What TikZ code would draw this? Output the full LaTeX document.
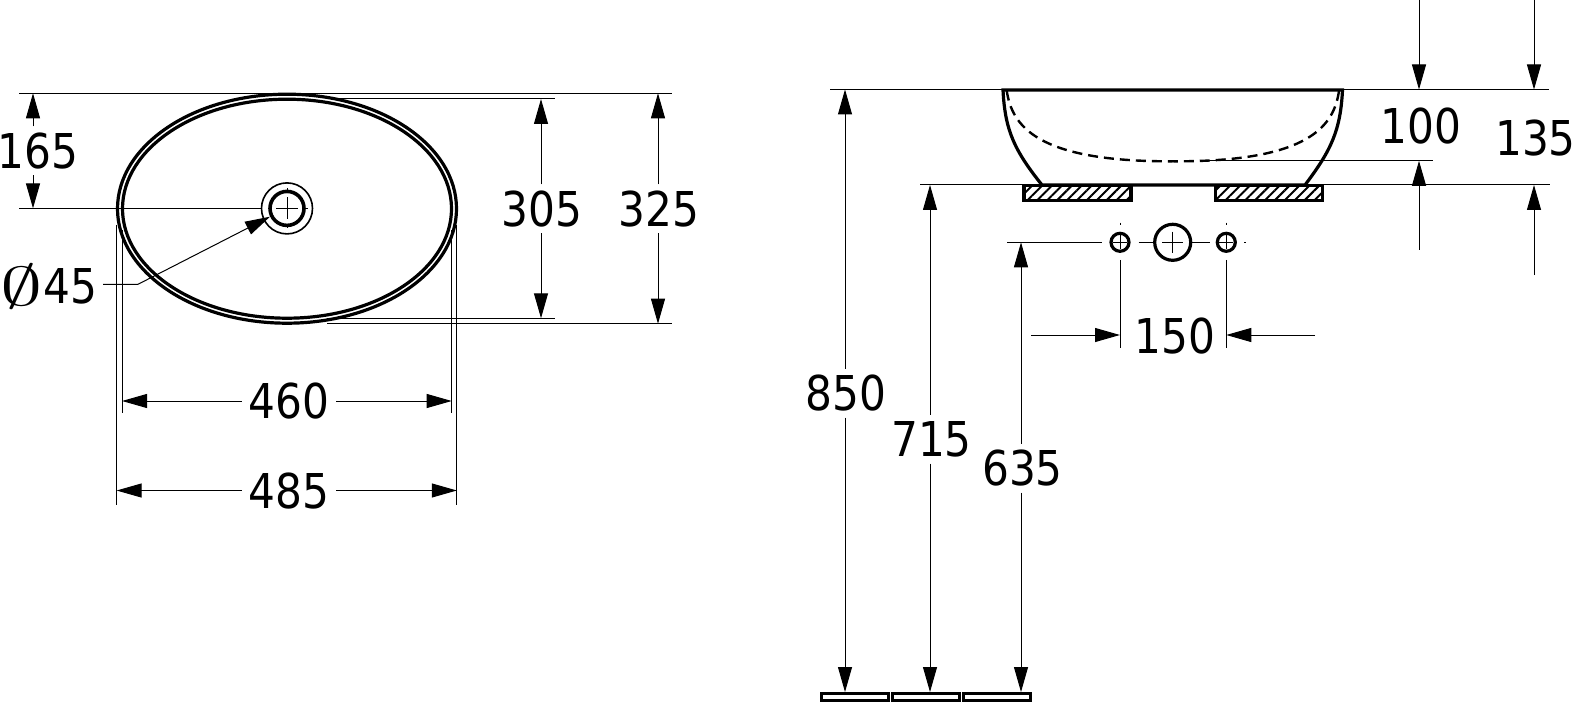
\documentclass[tikz,border=0pt]{standalone}
\usepackage{fontspec}
\usepackage{tikz}
\usetikzlibrary{arrows.meta}
\usetikzlibrary{shapes.geometric}
\usetikzlibrary{patterns.meta}
\newfontfamily\dimfont[FakeStretch=0.88]{DejaVu Sans}
\tikzset{>={Triangle[length=25pt,width=14pt]}, x=1pt, y=-1pt, line join=round,
  dim/.style={font=\dimfont\fontsize{48}{48}\selectfont, inner sep=0pt, outer sep=7pt, text height=35pt, text depth=0pt},
  thinline/.style={line width=1pt},
  heavy/.style={line width=3.2pt},
  hatched/.style={draw, heavy, pattern={Lines[angle=45,distance=7pt,line width=2pt]}},
  floorbox/.style={draw, heavy, fill=white, minimum width=67pt, minimum height=7pt, inner sep=0pt},
  hole/.style={draw, circle, heavy, inner sep=0pt}}

\begin{document}
\begin{tikzpicture}
\useasboundingbox (0,0) rectangle (1573,703);
%% top view
\node (rim) at (287,208.7) [draw,ellipse,heavy,inner sep=0pt,minimum width=339pt,minimum height=229pt] {};
\node (bowl) at (287,208.7) [draw,ellipse,heavy,inner sep=0pt,minimum width=329pt,minimum height=219pt] {};
\node (drainout) at (287,208.4) [draw,circle,line width=1.6pt,inner sep=0pt,minimum size=51pt] {};
\node (drain) at (287,208.4) [hole,line width=3.6pt,minimum size=34pt] {};
\draw [thinline] (276,208.4) -- (298,208.4) (287,197.4) -- (287,219.4);
\draw [thinline] (287,188) -- (287,191.5) (287,225) -- (287,228.5) (305,208.4) -- (308,208.4);
%
\coordinate (lefttop) at (19,93.3);
\coordinate (righttop) at (672,93.3);
\coordinate (leftmid) at (19,208.4);
\coordinate (bowltopa) at (327,99);
\coordinate (bowltopb) at (555,99);
\coordinate (bowlbota) at (327,318.3);
\coordinate (bowlbotb) at (555,318.3);
\coordinate (rimbota) at (327,323.7);
\coordinate (rimbotb) at (672,323.7);
\draw [thinline] (lefttop) -- (righttop);
\draw [thinline] (leftmid) -- (drainout.west);
\draw [thinline] (bowltopa) -- (bowltopb);
\draw [thinline] (bowlbota) -- (bowlbotb);
\draw [thinline] (rimbota) -- (rimbotb);
\coordinate (exta) at (116.6,225);
\coordinate (extaend) at (116.6,505);
\coordinate (extb) at (122,230);
\coordinate (extbend) at (122,413);
\coordinate (extc) at (451.7,230);
\coordinate (extcend) at (451.7,413);
\coordinate (extd) at (456.8,225);
\coordinate (extdend) at (456.8,505);
\draw [thinline] (exta) -- (extaend);
\draw [thinline] (extb) -- (extbend);
\draw [thinline] (extc) -- (extcend);
\draw [thinline] (extd) -- (extdend);
%
\node (d165) at (38,151) [dim] {165};
\coordinate (d165a) at (33,93.3);
\coordinate (d165b) at (33,208.4);
\draw [->,thinline] (d165.north -| d165a) -- (d165a);
\draw [->,thinline] (d165.south -| d165b) -- (d165b);
\node (d305) at (542,209) [dim] {305};
\coordinate (d305a) at (541,99);
\coordinate (d305b) at (541,318.3);
\draw [->,thinline] (d305.north -| d305a) -- (d305a);
\draw [->,thinline] (d305.south -| d305b) -- (d305b);
\node (d325) at (659,209) [dim] {325};
\coordinate (d325a) at (658,93.3);
\coordinate (d325b) at (658,323.7);
\draw [->,thinline] (d325.north -| d325a) -- (d325a);
\draw [->,thinline] (d325.south -| d325b) -- (d325b);
\node (d460) at (289,401) [dim] {460};
\coordinate (d460a) at (122,401);
\coordinate (d460b) at (451.7,401);
\draw [->,thinline] (d460) -- (d460a);
\draw [->,thinline] (d460) -- (d460b);
\node (d485) at (289,490.5) [dim] {485};
\coordinate (d485a) at (116.6,490.5);
\coordinate (d485b) at (456.8,490.5);
\draw [->,thinline] (d485) -- (d485a);
\draw [->,thinline] (d485) -- (d485b);
%
\node (d45) at (49,285.5) [dim,outer sep=0pt] {\raisebox{-2pt}{\scalebox{3.4}[2.2]{$\emptyset$}}45};
\coordinate (d45a) at (103,284.3);
\coordinate (d45b) at (138,284.3);
\coordinate (d45c) at (270,216.7);
\draw [->,thinline] (d45a) -- (d45b) -- (d45c);
%% side view
\draw [heavy] (1042,185) .. controls (1014,150) and (1005,130) .. (1003,90) -- (1342.5,90) .. controls (1340.5,130) and (1331.5,150) .. (1305,185) -- cycle;
\draw [line width=2.4pt,dash pattern=on 10pt off 6pt] (1006.7,90.7) .. controls (1012,125) and (1035,162) .. (1173,161.3) .. controls (1311,162) and (1334,125) .. (1339,90.7);
\node (padleft) at (1077.5,193) [hatched,minimum width=107pt,minimum height=15pt,inner sep=0pt] {};
\node (padright) at (1269,193) [hatched,minimum width=107pt,minimum height=15pt,inner sep=0pt] {};
%
\coordinate (basintopa) at (830,89.5);
\coordinate (basintopb) at (1003,89.5);
\coordinate (basintopc) at (1342,89.5);
\coordinate (basintopd) at (1549,89.5);
\coordinate (basinbota) at (920,185);
\coordinate (basinbotb) at (1550,185);
\coordinate (inneta) at (1200,160.8);
\coordinate (innetb) at (1433,160.8);
\draw [thinline] (basintopa) -- (basintopb);
\draw [thinline] (basintopc) -- (basintopd);
\draw [thinline] (basinbota) -- (basinbotb);
\draw [thinline] (inneta) -- (innetb);
%
\node (d100) at (1421,126) [dim,outer sep=0pt] {100};
\coordinate (d100a) at (1419,0);
\coordinate (d100b) at (1419,89.5);
\coordinate (d100c) at (1419,250);
\coordinate (d100d) at (1419,160.8);
\draw [->,thinline] (d100a) -- (d100b);
\draw [->,thinline] (d100c) -- (d100d);
\node (d135) at (1535.5,138.5) [dim,outer sep=0pt] {135};
\coordinate (d135a) at (1534,0);
\coordinate (d135b) at (1534,89.5);
\coordinate (d135c) at (1534,275);
\coordinate (d135d) at (1534,185);
\draw [->,thinline] (d135a) -- (d135b);
\draw [->,thinline] (d135c) -- (d135d);
%% tap holes
\node (holeleft) at (1120,242.3) [hole,minimum size=18pt] {};
\node (holemid) at (1172.7,242.3) [hole,minimum size=36pt] {};
\node (holeright) at (1226.3,242.3) [hole,minimum size=18pt] {};
\draw [thinline] (1113,242.3) -- (1127,242.3) (1120,235.3) -- (1120,249.3);
\draw [thinline] (1219.3,242.3) -- (1233.3,242.3) (1226.3,235.3) -- (1226.3,249.3);
\draw [thinline] (1162,242.3) -- (1183.4,242.3) (1172.7,231.6) -- (1172.7,253);
\draw [thinline] (1120,222.7) -- (1120,225) (1226.3,222.7) -- (1226.3,225) (1244,242.3) -- (1246,242.3);
\coordinate (holeline) at (1007,242.3);
\coordinate (holelineb) at (1102,242.3);
\draw [thinline] (holeline) -- (holelineb);
\draw [thinline] (holeleft.east) ++(8,0) -- (holemid.west);
\draw [thinline] (holemid.east) -- ++(18,0);
\coordinate (tickleft) at (1120,260);
\coordinate (tickleftb) at (1120,348);
\coordinate (tickright) at (1226.3,260);
\coordinate (tickrightb) at (1226.3,348);
\draw [thinline] (tickleft) -- (tickleftb);
\draw [thinline] (tickright) -- (tickrightb);
%
\node (d150) at (1175,336) [dim,outer sep=0pt] {150};
\coordinate (d150a) at (1031,335);
\coordinate (d150b) at (1120,335);
\coordinate (d150c) at (1315,335);
\coordinate (d150d) at (1226.3,335);
\draw [->,thinline] (d150a) -- (d150b);
\draw [->,thinline] (d150c) -- (d150d);
%% floor
\node (floora) at (855.3,696.8) [floorbox] {};
\node (floorb) at (926.2,696.8) [floorbox] {};
\node (floorc) at (997,696.8) [floorbox] {};
\node (d850) at (846,393) [dim] {850};
\coordinate (d850a) at (845,89.5);
\coordinate (d850b) at (845,692);
\draw [->,thinline] (d850.north -| d850a) -- (d850a);
\draw [->,thinline] (d850.south -| d850b) -- (d850b);
\node (d715) at (931.5,439) [dim] {715};
\coordinate (d715a) at (930,185);
\coordinate (d715b) at (930,692);
\draw [->,thinline] (d715.north -| d715a) -- (d715a);
\draw [->,thinline] (d715.south -| d715b) -- (d715b);
\node (d635) at (1022.5,468) [dim] {635};
\coordinate (d635a) at (1021,242.3);
\coordinate (d635b) at (1021,692);
\draw [->,thinline] (d635.north -| d635a) -- (d635a);
\draw [->,thinline] (d635.south -| d635b) -- (d635b);
%
\end{tikzpicture}
\end{document}
